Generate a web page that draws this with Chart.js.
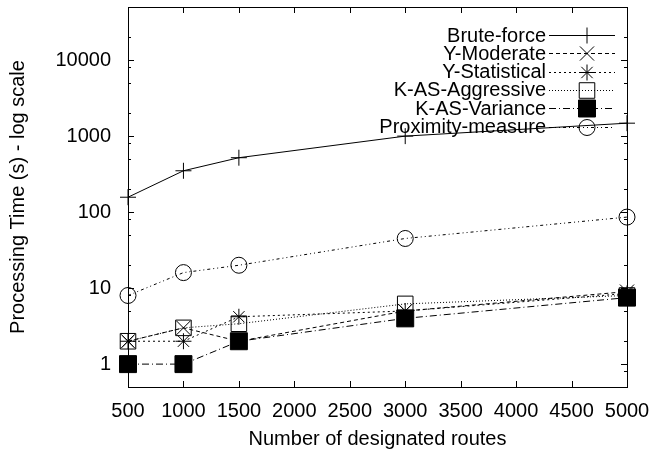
<!DOCTYPE html>
<html>
<head>
<meta charset="utf-8">
<script src="https://cdn.jsdelivr.net/npm/chart.js@4.4.1/dist/chart.umd.min.js"></script>
<style>
  html, body { margin: 0; padding: 0; background: #fff; }
  #wrap { width: 652px; height: 455px; }
</style>
</head>
<body>
<div id="wrap"><canvas id="chart" width="652" height="455"></canvas></div>
<script>
// Values
const routes = [500, 1000, 1500, 3000, 5000];
const bruteForce = [157, 350, 520, 1000, 1480];
const yModerate = [2, 3, 2, 5, 9];
const yStatistical = [2, 2, 4.2, 5, 8.5];
const kasAggressive = [2, 3, 3.4, 6.2, 8];
const kasVariance = [1, 1, 2, 4, 7.5];
const proximity = [8, 16, 20, 45, 86];

const xTicks = [500, 1000, 1500, 2000, 2500, 3000, 3500, 4000, 4500, 5000];
const yTicks = [1, 10, 100, 1000, 10000];
const yMinorTicks = [0.8, 2, 5, 8, 20, 50, 80, 200, 500, 800, 2000, 5000, 8000, 20000];

const FONT = "'Liberation Sans', Arial, Helvetica, sans-serif";
Chart.defaults.font.family = FONT;
Chart.defaults.color = '#000';

function series(label, values, style) {
    return Object.assign({
        label: label,
        data: routes.map((x, i) => ({ x: x, y: values[i] })),
        borderColor: '#000',
        borderWidth: 1,
        pointBorderColor: '#000',
        pointBorderWidth: 1,
        pointBackgroundColor: 'rgba(0,0,0,0)',
        fill: false,
        tension: 0,
        clip: false
    }, style);
}

const datasets = [
    series('Brute-force', bruteForce, { pointStyle: 'cross', pointRadius: 8, borderDash: [] }),
    series('Y-Moderate', yModerate, { pointStyle: 'crossRot', pointRadius: 10, borderDash: [4, 3] }),
    series('Y-Statistical', yStatistical, { pointStyle: 'star', pointRadius: 8, borderDash: [2, 3] }),
    series('K-AS-Aggressive', kasAggressive, { pointStyle: 'rect', pointRadius: 11, borderDash: [1, 2] }),
    series('K-AS-Variance', kasVariance, { pointStyle: 'rect', pointRadius: 12, pointBackgroundColor: '#000', borderDash: [7, 3, 1, 3] }),
    series('Proximity-measure', proximity, { pointStyle: 'circle', pointRadius: 8, borderDash: [3, 3, 1, 3, 1, 3] })
];

// Chart.js adds room for overhanging labels; the reference has a fixed box
function noPadding(scale) {
    scale.paddingLeft = 0;
    scale.paddingRight = 0;
    scale.paddingTop = 0;
    scale.paddingBottom = 0;
}

// Box around the plot with inward ticks on all four sides (gnuplot look)
const frame = {
    id: 'frame',
    afterDraw(chart) {
        const ctx = chart.ctx;
        const a = chart.chartArea;
        const xs = chart.scales.x;
        const ys = chart.scales.y;
        ctx.save();
        ctx.strokeStyle = '#000';
        ctx.lineWidth = 1;
        ctx.setLineDash([]);
        ctx.beginPath();
        xTicks.forEach(v => {
            const px = Math.round(xs.getPixelForValue(v)) + 0.5;
            ctx.moveTo(px, a.bottom); ctx.lineTo(px, a.bottom - 6);
            ctx.moveTo(px, a.top); ctx.lineTo(px, a.top + 6);
        });
        yTicks.forEach(v => {
            const py = Math.round(ys.getPixelForValue(v)) + 0.5;
            ctx.moveTo(a.left, py); ctx.lineTo(a.left + 6, py);
            ctx.moveTo(a.right, py); ctx.lineTo(a.right - 6, py);
        });
        yMinorTicks.forEach(v => {
            const py = Math.round(ys.getPixelForValue(v)) + 0.5;
            ctx.moveTo(a.left, py); ctx.lineTo(a.left + 3, py);
            ctx.moveTo(a.right, py); ctx.lineTo(a.right - 3, py);
        });
        ctx.stroke();
        ctx.strokeRect(Math.round(a.left) + 0.5, Math.round(a.top) + 0.5,
            Math.round(a.right - a.left), Math.round(a.bottom - a.top));
        ctx.restore();
    }
};

// Key in the top right corner: text, then line sample with the marker
const key = {
    id: 'key',
    afterDraw(chart) {
        const ctx = chart.ctx;
        const textRight = 546;
        const lineStart = 549;
        const lineEnd = 615;
        const markX = 587;
        ctx.save();
        ctx.font = '20px ' + FONT;
        ctx.textAlign = 'right';
        ctx.textBaseline = 'middle';
        chart.data.datasets.forEach((ds, i) => {
            const y = 35 + i * 18.3;
            ctx.fillStyle = '#000';
            ctx.fillText(ds.label, textRight, y + 1);
            ctx.strokeStyle = '#000';
            ctx.lineWidth = 1;
            ctx.setLineDash(ds.borderDash || []);
            ctx.beginPath();
            ctx.moveTo(lineStart, Math.round(y) + 0.5);
            ctx.lineTo(lineEnd, Math.round(y) + 0.5);
            ctx.stroke();
            ctx.setLineDash([]);
            ctx.fillStyle = ds.pointBackgroundColor;
            Chart.helpers.drawPoint(ctx, {
                pointStyle: ds.pointStyle,
                radius: ds.pointRadius,
                rotation: 0,
                borderWidth: 1
            }, markX, Math.round(y) + 0.5);
        });
        ctx.restore();
    }
};

new Chart(document.getElementById('chart'), {
    type: 'line',
    data: { datasets: datasets },
    options: {
        responsive: false,
        animation: false,
        devicePixelRatio: 1,
        events: [],
        layout: { autoPadding: false, padding: { top: 7, right: 25, left: 0, bottom: 0 } },
        plugins: {
            legend: { display: false },
            tooltip: { enabled: false }
        },
        scales: {
            x: {
                type: 'linear',
                min: 500,
                max: 5000,
                afterFit(scale) { scale.height = 68; noPadding(scale); },
                afterBuildTicks(scale) { scale.ticks = xTicks.map(v => ({ value: v })); },
                grid: { display: false, drawTicks: false },
                border: { display: false },
                ticks: {
                    font: { size: 20 },
                    color: '#000',
                    padding: 12,
                    maxRotation: 0,
                    autoSkip: false,
                    callback: v => String(v)
                },
                title: {
                    display: true,
                    text: 'Number of designated routes',
                    font: { size: 20 },
                    color: '#000',
                    padding: { top: 0, bottom: 4 }
                }
            },
            y: {
                type: 'logarithmic',
                min: 0.5,
                max: 50000,
                afterFit(scale) { scale.width = 128; noPadding(scale); },
                afterBuildTicks(scale) { scale.ticks = yTicks.map(v => ({ value: v })); },
                grid: { display: false, drawTicks: false },
                border: { display: false },
                ticks: {
                    font: { size: 20 },
                    color: '#000',
                    padding: 17,
                    autoSkip: false,
                    callback: v => String(v)
                },
                title: {
                    display: true,
                    text: 'Processing Time (s) - log scale',
                    font: { size: 20 },
                    color: '#000',
                    padding: { top: 6, bottom: 0 }
                }
            }
        }
    },
    plugins: [frame, key]
});
</script>
</body>
</html>
